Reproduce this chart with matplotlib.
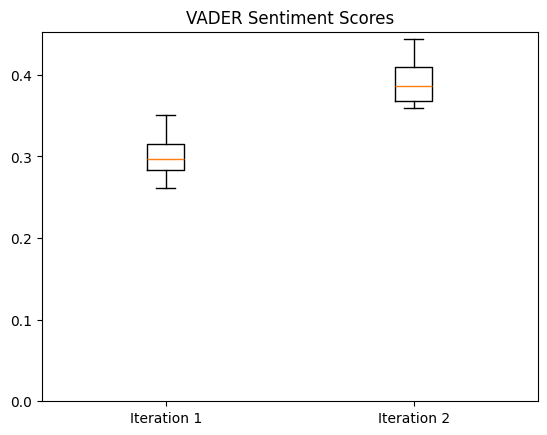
import numpy as np
import matplotlib
matplotlib.use('Agg')
import matplotlib.pyplot as plt

# scores: min, q1, median, q3, max for each iteration
labels = ['Iteration 1', 'Iteration 2']
iter_1 = [0.2610, 0.2831, 0.2969, 0.3157, 0.3505]
iter_2 = [0.3591, 0.3681, 0.3861, 0.4098, 0.4438]

fig, ax = plt.subplots(figsize=(6.4, 4.8))
ax.boxplot([iter_1, iter_2], tick_labels=labels)
ax.set_title('VADER Sentiment Scores')
ax.set_ylim(bottom=0)

plt.savefig('out.png', dpi=100, bbox_inches='tight')
